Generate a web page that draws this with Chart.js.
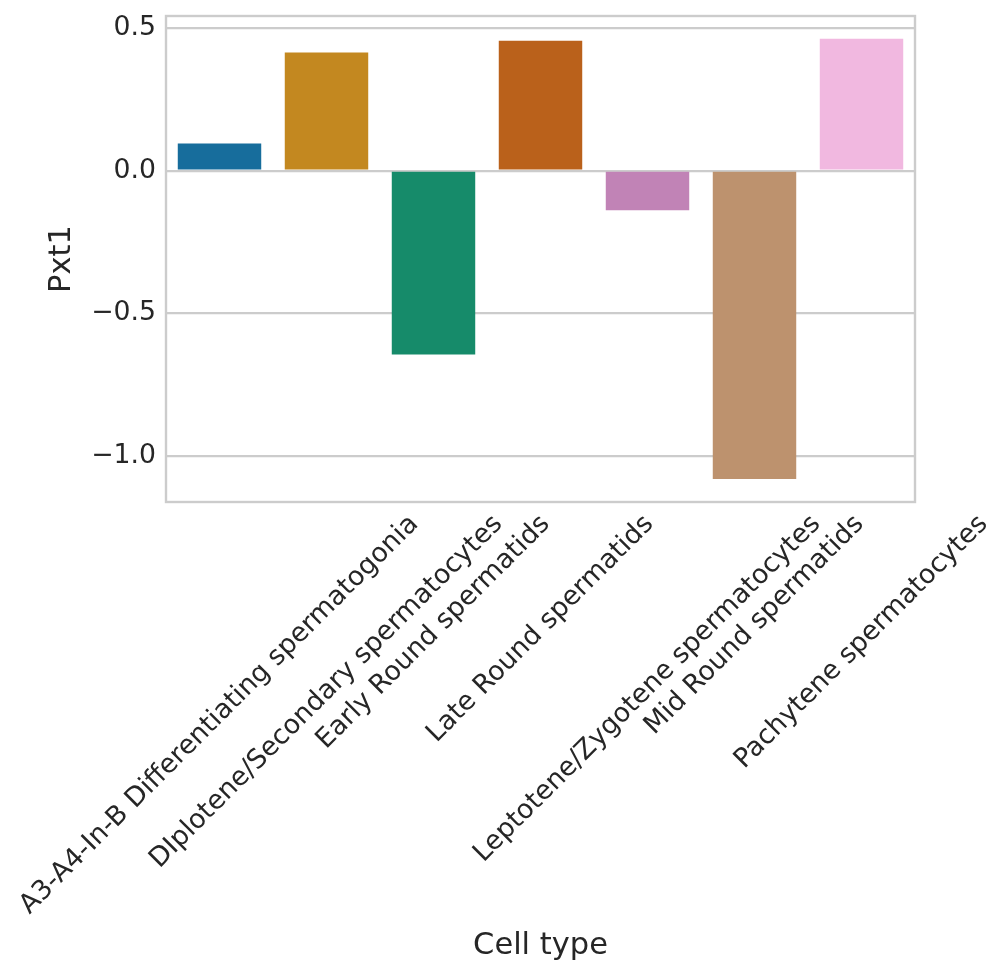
<!DOCTYPE html>
<html>
<head>
<meta charset="utf-8">
<script src="https://cdn.jsdelivr.net/npm/chart.js@4/dist/chart.umd.min.js"></script>
<style>
  html, body { margin: 0; padding: 0; background: #ffffff; }
  #wrap { width: 1008px; height: 978px; }
</style>
</head>
<body>
<div id="wrap"><canvas id="barChart" width="1008" height="978"></canvas></div>
<script>
// cell types along the x axis
var cellTypes = [
  'A3-A4-In-B Differentiating spermatogonia',
  'DIplotene/Secondary spermatocytes',
  'Early Round spermatids',
  'Late Round spermatids',
  'Leptotene/Zygotene spermatocytes',
  'Mid Round spermatids',
  'Pachytene spermatocytes'
];

// Pxt1 value per cell type
var pxt1Values = [0.095, 0.414, -0.644, 0.455, -0.139, -1.080, 0.462];

// seaborn colorblind palette, desaturated like barplot does
var barColors = ['#176d9c', '#c38820', '#168b6a', '#ba611b', '#c183b6', '#bd926e', '#f1b8e0'];

var yTicks = [-1.0, -0.5, 0.0, 0.5];

var textColor = '#262626';
var gridColor = '#cccccc';
var fontFamily = '"DejaVu Sans", sans-serif';
var tickSize = 26.7;

// rotated category labels, centred on their tick like matplotlib does
var rotatedLabels = {
  id: 'rotatedLabels',
  afterDraw: function (chart) {
    var ctx = chart.ctx;
    var xScale = chart.scales.x;
    ctx.save();
    ctx.font = tickSize + 'px ' + fontFamily;
    ctx.fillStyle = textColor;
    ctx.textAlign = 'center';
    ctx.textBaseline = 'middle';
    cellTypes.forEach(function (label, i) {
      var x = xScale.getPixelForTick(i);
      var w = ctx.measureText(label).width;
      var box = (w + tickSize * 1.164) / Math.SQRT2;
      var y = chart.chartArea.bottom + 7 + box / 2;
      ctx.save();
      ctx.translate(x, y);
      ctx.rotate(-Math.PI / 4);
      ctx.fillText(label, 0, 0);
      ctx.restore();
    });
    ctx.restore();
  }
};

// four light grey spines round the axes
var spines = {
  id: 'spines',
  afterDatasetsDraw: function (chart) {
    var a = chart.chartArea;
    var ctx = chart.ctx;
    ctx.save();
    ctx.strokeStyle = gridColor;
    ctx.lineWidth = 2.4;
    ctx.strokeRect(a.left, a.top, a.right - a.left, a.bottom - a.top);
    ctx.restore();
  }
};

document.addEventListener('DOMContentLoaded', function () {
  var ctx = document.getElementById('barChart').getContext('2d');

  new Chart(ctx, {
    type: 'bar',
    data: {
      labels: cellTypes,
      datasets: [{
        label: 'Pxt1',
        data: pxt1Values,
        backgroundColor: barColors,
        borderWidth: 0,
        categoryPercentage: 0.78,
        barPercentage: 1.0
      }]
    },
    options: {
      responsive: false,
      animation: false,
      layout: { padding: { top: 16, right: 93, bottom: 0, left: 0 } },
      plugins: {
        legend: { display: false },
        tooltip: { enabled: false }
      },
      scales: {
        x: {
          grid: { display: false },
          border: { display: false },
          ticks: { display: false },
          title: {
            display: true,
            text: 'Cell type',
            color: textColor,
            font: { family: fontFamily, size: 30.5 },
            padding: { top: 0, bottom: 14 }
          },
          afterFit: function (scale) {
            scale.height = 476;
            scale.paddingLeft = 0;
            scale.paddingRight = 0;
          }
        },
        y: {
          min: -1.161,
          max: 0.542,
          grid: { color: gridColor, lineWidth: 2.2, drawTicks: false },
          border: { display: false },
          ticks: {
            color: textColor,
            padding: 10,
            font: { family: fontFamily, size: tickSize },
            callback: function (v) {
              return (v < 0 ? '\u2212' : '') + Math.abs(v).toFixed(1);
            }
          },
          afterBuildTicks: function (scale) {
            scale.ticks = yTicks.map(function (v) { return { value: v }; });
          },
          title: {
            display: true,
            text: 'Pxt1',
            color: textColor,
            font: { family: fontFamily, size: 30.5 },
            padding: { top: 44, bottom: 0 }
          },
          afterFit: function (scale) {
            scale.width = 166;
            scale.paddingTop = 0;
            scale.paddingBottom = 0;
          }
        }
      }
    },
    plugins: [rotatedLabels, spines]
  });
});
</script>
</body>
</html>
